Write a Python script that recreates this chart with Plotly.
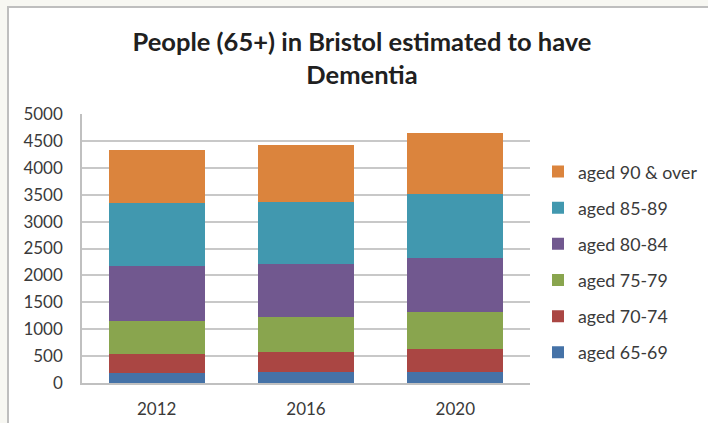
import plotly.graph_objects as go

years = ["2012", "2016", "2020"]
series_names = ["aged 65-69", "aged 70-74", "aged 75-79", "aged 80-84", "aged 85-89", "aged 90 & over"]
aged_65_69 = [190, 210, 200]
aged_70_74 = [345, 370, 425]
aged_75_79 = [615, 640, 690]
aged_80_84 = [1030, 990, 1015]
aged_85_89 = [1170, 1160, 1180]
aged_90_over = [980, 1055, 1145]
values = [aged_65_69, aged_70_74, aged_75_79, aged_80_84, aged_85_89, aged_90_over]
colors = ["#4572A7", "#AA4643", "#89A54E", "#71588F", "#4198AF", "#DB843D"]
y_ticks = [0, 500, 1000, 1500, 2000, 2500, 3000, 3500, 4000, 4500, 5000]

fig = go.Figure()
n = len(series_names)
for i, (name, vals, col) in enumerate(zip(series_names, values, colors)):
    fig.add_trace(go.Bar(x=years, y=vals, name=name, marker=dict(color=col, line=dict(width=0)),
                         legendgroup=f"g{i}", legendrank=n - i))

L, R, T, B = 82, 178, 114, 40
W, H = 708, 423
pw, ph = W - L - R, H - T - B

def px_x(p):
    return (p - L) / pw

def px_y(p):
    return (H - B - p) / ph

fig.update_layout(
    width=W, height=H,
    barmode="stack", bargap=0.355,
    margin=dict(l=L, r=R, t=T, b=B, autoexpand=False),
    paper_bgcolor="#F7F7F2", plot_bgcolor="white",
    font=dict(family="Lato", color="#3A3A3A", size=14),
    title=dict(text="People (65+) in Bristol estimated to have<br>Dementia",
               x=362 / W, xanchor="center", y=1 - 51 / H, yanchor="top",
               font=dict(family="Lato", size=25.5, color="#202020", weight="bold")),
    xaxis=dict(showgrid=False, showline=True, linecolor="#C0C0C0", linewidth=1.5, automargin=False,
               ticks="", tickfont=dict(size=17, color="#3A3A3A"), ticklabelstandoff=10),
    yaxis=dict(range=[0, 5000], tickvals=y_ticks, showgrid=True, gridcolor="#C8C8C8", gridwidth=1.5,
               showline=True, linecolor="#C0C0C0", linewidth=1.5, zeroline=False, automargin=False,
               ticks="", tickfont=dict(size=17, color="#3A3A3A"), ticklabelstandoff=14),
    legend=dict(x=px_x(538), xanchor="left", y=px_y(262), yanchor="middle",
                traceorder="grouped", tracegroupgap=10,
                font=dict(size=17.8, color="#3A3A3A"), itemwidth=30, bgcolor="rgba(0,0,0,0)"),
    shapes=[dict(type="rect", xref="paper", yref="paper",
                 x0=px_x(8), x1=px_x(730), y0=px_y(440), y1=px_y(7),
                 fillcolor="white", line=dict(color="#BEBEBE", width=2), layer="below")],
)

fig.write_html("out.html", config={"displayModeBar": False},
               post_script="document.body.style.margin='0';")
